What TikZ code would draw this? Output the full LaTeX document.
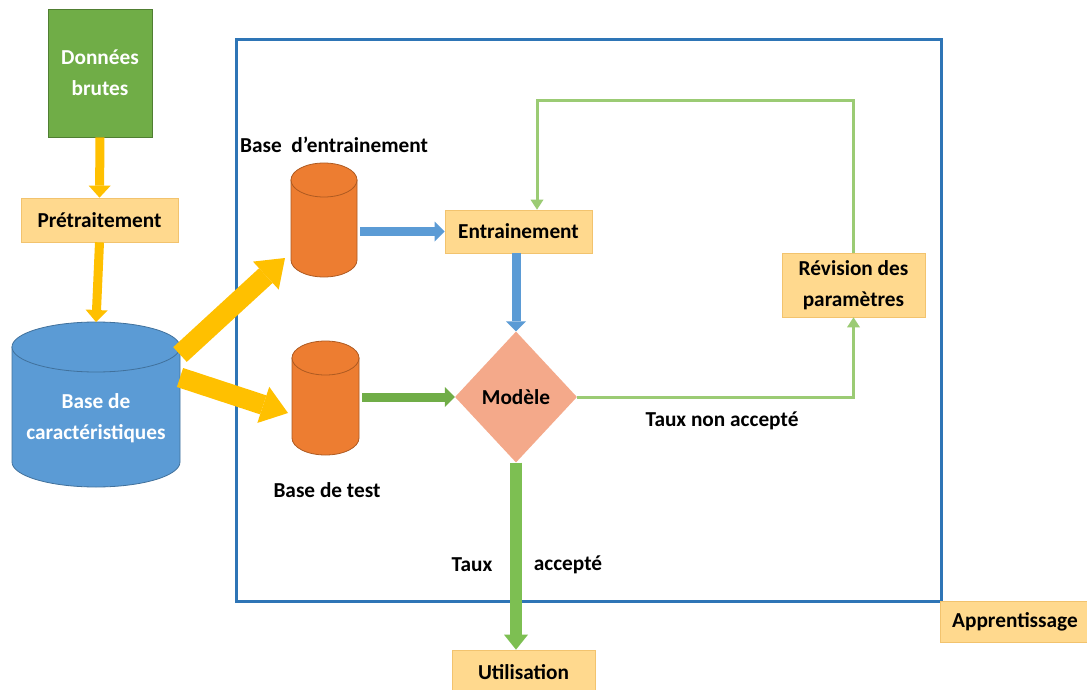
\documentclass[tikz,border=0pt]{standalone}
\usepackage{fontspec}
\setmainfont{Carlito}
\usetikzlibrary{arrows.meta,shapes.geometric,calc}

\definecolor{boxfill}{HTML}{FFD98E}
\definecolor{boxline}{HTML}{F2C36E}
\definecolor{rawgreen}{HTML}{70AD47}
\definecolor{rawgreenline}{HTML}{507E32}
\definecolor{featblue}{HTML}{5B9BD5}
\definecolor{featblueline}{HTML}{41719C}
\definecolor{baseorange}{HTML}{ED7D31}
\definecolor{baseorangeline}{HTML}{AE5A21}
\definecolor{frameblue}{HTML}{2E75B6}
\definecolor{arrowyellow}{HTML}{FFC000}
\definecolor{modelfill}{HTML}{F4A98A}
\definecolor{loopgreen}{HTML}{9BCB74}
\definecolor{passgreen}{HTML}{7DBF52}

% cylinder: #1 fill, #2 outline, #3 x left, #4 x right, #5 y top, #6 y bottom, #7 ellipse half-height
\newcommand{\dbcylinder}[7]{%
  \pgfmathsetmacro\cylrx{(#4-#3)/2}%
  \pgfmathsetmacro\cylcx{(#4+#3)/2}%
  \filldraw[fill=#1, draw=#2, line width=0.8pt]
    (#3,#5+#7) -- (#3,#6-#7)
    arc[start angle=180, end angle=360, x radius=\cylrx pt, y radius=#7pt]
    -- (#4,#5+#7) -- cycle;
  \filldraw[fill=#1, draw=#2, line width=0.8pt]
    (\cylcx,#5+#7) ellipse [x radius=\cylrx pt, y radius=#7pt];
}

\tikzset{
  lbl/.style={font=\fontsize{21.3}{31}\selectfont\bfseries, align=center, text=black, inner sep=0pt},
  stepbox/.style={lbl, draw=boxline, fill=boxfill, line width=0.7pt},
  hotspot/.style={inner sep=0pt, outer sep=0pt},
  yarrowthin/.style={draw=arrowyellow, line width=9pt,
    -{Triangle[width=22pt,length=12pt,line width=0pt]}},
  yarrowwide/.style={draw=arrowyellow, line width=20pt,
    -{Triangle[width=38pt,length=26pt,line width=0pt]}},
  barrow/.style={draw=featblue, line width=9pt,
    -{Triangle[width=20pt,length=10pt,line width=0pt]}},
  garrow/.style={draw=rawgreen, line width=9pt,
    -{Triangle[width=20pt,length=10pt,line width=0pt]}},
  loopline/.style={draw=loopgreen, line width=3pt,
    -{Triangle[width=13pt,length=10pt,line width=0pt]}},
  passarrow/.style={draw=passgreen, line width=12pt,
    -{Triangle[width=24pt,length=15pt,line width=0pt]}},
}

\begin{document}
\begin{tikzpicture}[x=1pt, y=-1pt]
  \fill[white] (0,0) rectangle (1087,690);
  \useasboundingbox (0,0) rectangle (1087,690);

  % learning frame
  \node[draw=frameblue, line width=3pt, minimum width=705pt, minimum height=561pt,
        inner sep=0pt] (frame) at (588.5,320.5) {};

  % raw data and preprocessing
  \node[stepbox, fill=rawgreen, draw=rawgreenline, text=white,
        minimum width=104pt, minimum height=128pt] (raw) at (100,73) {Données\\brutes};
  \node[stepbox, minimum width=157pt, minimum height=44pt] (pre) at (99.5,220) {Prétraitement};

  % feature database
  \dbcylinder{featblue}{featblueline}{12}{180}{322}{487}{25}
  \node[hotspot, minimum width=168pt, minimum height=165pt] (cara) at (96,404.5) {};
  \node[lbl, text=white] (caratext) at (96,418) {Base de\\caractéristiques};

  % training and test databases
  \dbcylinder{baseorange}{baseorangeline}{291}{357}{163}{277}{17}
  \node[hotspot, minimum width=66pt, minimum height=114pt] (basee) at (324,220) {};
  \node[lbl] (baseelbl) at (334,145) {Base~~d’entrainement};

  \dbcylinder{baseorange}{baseorangeline}{292}{359}{341}{455}{17}
  \node[hotspot, minimum width=67pt, minimum height=114pt] (baset) at (325.5,398) {};
  \node[lbl] (basetlbl) at (327,490) {Base de test};

  % training, model, parameter revision
  \node[stepbox, minimum width=147pt, minimum height=43pt] (entr) at (518.5,231.5) {Entrainement};
  \node[lbl, shape=diamond, fill=modelfill, minimum width=122pt, minimum height=131pt] (modele) at (516,397) {Modèle};
  \node[stepbox, minimum width=143pt, minimum height=64pt] (rev) at (853.5,285) {Révision des\\paramètres};

  % outputs
  \node[stepbox, minimum width=143pt, minimum height=44pt] (util) at (523.5,672) {Utilisation};
  \node[stepbox, minimum width=150pt, minimum height=41pt] (appr) at (1015,622) {Apprentissage};

  % rate labels
  \node[lbl] (nonacc) at (722,421) {Taux non accepté};
  \node[lbl] (tauxlbl) at (472,565) {Taux};
  \node[lbl] (acclbl) at (568,565) {accepté};

  % data flow
  \draw[yarrowthin] (raw.south) -- (pre.north);
  \draw[yarrowthin] (pre.south) -- (cara.north);
  \draw[yarrowwide] ($(cara.east)+(0,-50)$) -- ($(basee.south west)+(-6,-19)$);
  \draw[yarrowwide] ($(cara.east)+(0,-27)$) -- ($(baset.west)+(-4,15)$);

  \draw[barrow] ($(basee.east |- entr.west)+(3,0)$) -- (entr.west);
  \draw[barrow] (entr.south -| modele.north) -- (modele.north);
  \draw[garrow] ($(baset.east |- modele.west)+(3,0)$) -- (modele.west);

  % revision loop
  \coordinate (loopcorner) at (537,101);
  \draw[loopline] (modele.east) -| (rev.south);
  \draw[loopline] (rev.north) |- (loopcorner) -- (loopcorner |- entr.north);

  % accepted model goes to use
  \draw[passarrow] (modele.south) -- (util.north -| modele.south);
\end{tikzpicture}
\end{document}
